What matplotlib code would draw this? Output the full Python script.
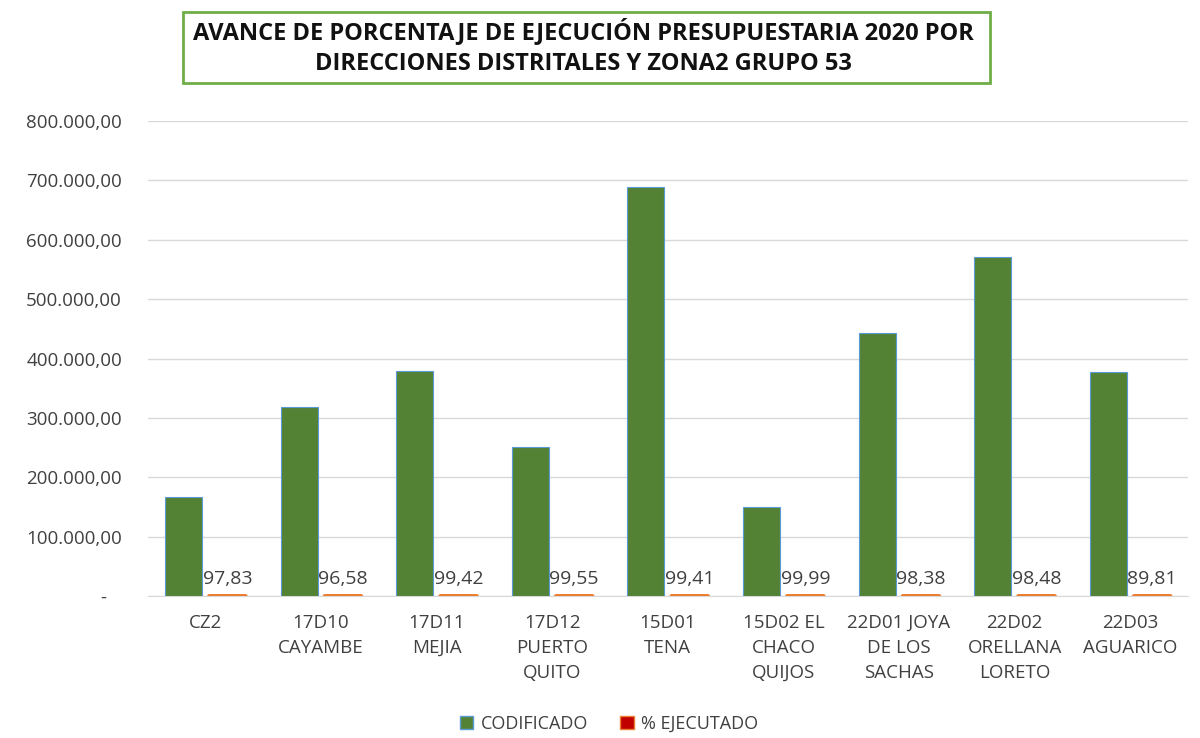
import matplotlib
matplotlib.use("Agg")
import matplotlib.pyplot as plt
import numpy as np
from matplotlib.patches import Patch, Rectangle

categories = ["CZ2", "17D10\nCAYAMBE", "17D11\nMEJIA", "17D12\nPUERTO\nQUITO", "15D01\nTENA",
              "15D02 EL\nCHACO\nQUIJOS", "22D01 JOYA\nDE LOS\nSACHAS", "22D02\nORELLANA\nLORETO",
              "22D03\nAGUARICO"]
codificado = [166700, 318000, 379000, 251000, 689000, 150000, 443000, 571000, 377000]
ejecutado = [97.83, 96.58, 99.42, 99.55, 99.41, 99.99, 98.38, 98.48, 89.81]

plt.rcParams['font.family'] = ['Open Sans', 'DejaVu Sans']

def fmt(v, pos=None):
    if v == 0:
        return "-   "
    s = f"{v:,.2f}"
    return s.replace(",", "X").replace(".", ",").replace("X", ".")

fig = plt.figure(figsize=(12, 7.38), dpi=100)
ax = fig.add_axes([0.123, 0.1924, 0.867, 0.6436])

x = np.arange(len(categories))
w = 0.32
ax.bar(x - 0.19, codificado, w, color="#548235", edgecolor="#5B9BD5", linewidth=0.8, zorder=3)
ax.bar(x + 0.19, ejecutado, w, color="#ED7D31", edgecolor="#ED7D31", linewidth=2.5,
       joinstyle="round", snap=False, zorder=3)

for xi, v in zip(x, ejecutado):
    ax.text(xi + 0.19, 14000, f"{v:.2f}".replace(".", ","), ha="center", va="bottom",
            fontsize=14, color="#404040", zorder=4)

ax.set_xlim(-0.5, len(categories) - 0.5)
ax.set_ylim(0, 800000)
ax.set_yticks(np.arange(0, 800001, 100000))
ax.yaxis.set_major_formatter(plt.FuncFormatter(fmt))
ax.set_xticks(x)
ax.set_xticklabels(categories, linespacing=1.5)
ax.tick_params(axis="both", length=0, labelsize=13.5, colors="#404040")
ax.tick_params(axis="x", pad=13)
ax.tick_params(axis="y", pad=18.5)
ax.grid(axis="y", color="#D9D9D9", linewidth=1, zorder=0)
for s in ["top", "right", "left"]:
    ax.spines[s].set_visible(False)
ax.spines["bottom"].set_color("#D9D9D9")
ax.spines["bottom"].set_zorder(1)

fig.patches.append(Rectangle((183 / 1200, 1 - 83 / 738), 807 / 1200, 71 / 738,
                             transform=fig.transFigure, fill=False, edgecolor="#70AD47",
                             linewidth=2))
fig.text(0.4858, 1 - 47 / 738,
         "AVANCE DE PORCENTAJE DE EJECUCIÓN PRESUPUESTARIA 2020 POR\nDIRECCIONES DISTRITALES Y ZONA2 GRUPO 53",
         ha="center", va="center", fontsize=17, fontweight="bold", color="#111111", linespacing=1.35)

handles = [Patch(facecolor="#548235", edgecolor="#5B9BD5", label="CODIFICADO"),
           Patch(facecolor="#C00000", edgecolor="#ED7D31", label="% EJECUTADO")]
fig.legend(handles=handles, loc="center", bbox_to_anchor=(0.5075, 1 - 724 / 738), ncol=2, frameon=False,
           fontsize=13, handlelength=0.75, handleheight=0.75, columnspacing=1.8, handletextpad=0.4,
           labelcolor="#404040")

fig.savefig("out.png", dpi=100)
